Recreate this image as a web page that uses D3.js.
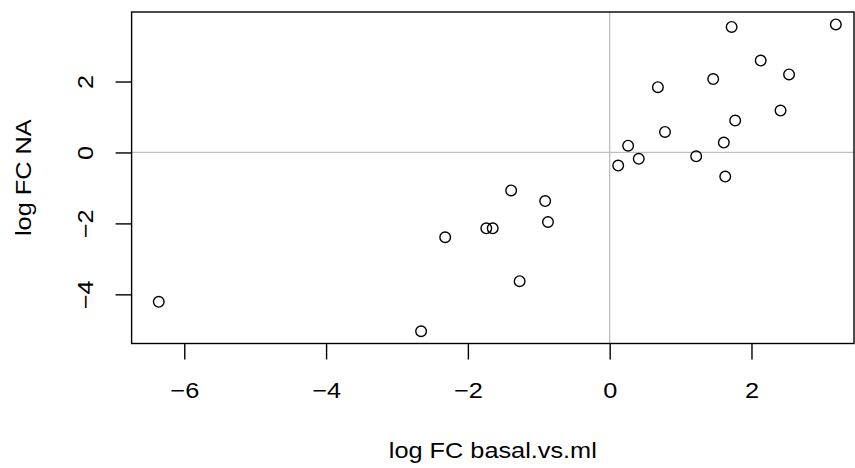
<!DOCTYPE html>
<html>
<head>
<meta charset="utf-8">
<script src="https://cdn.jsdelivr.net/npm/d3@7"></script>
<style>
  body { margin: 0; background: #fff; }
  text { font-family: "Liberation Sans", Arial, sans-serif; fill: #000; }
</style>
</head>
<body>
<div id="chart"></div>
<script>
// log fold changes, one entry per gene
const logFCx = [-6.36, -2.66, -2.32, -1.74, -1.65, -1.39, -1.27, -0.91, -0.87,
                0.12, 0.26, 0.41, 0.68, 0.78, 1.22, 1.46, 1.61, 1.63, 1.72,
                1.77, 2.13, 2.41, 2.53, 3.19];
const logFCy = [-4.21, -5.04, -2.39, -2.14, -2.14, -1.07, -3.63, -1.37, -1.96,
                -0.37, 0.19, -0.18, 1.84, 0.58, -0.11, 2.07, 0.28, -0.68, 3.54,
                0.90, 2.59, 1.18, 2.20, 3.61];
const xTicks = [-6, -4, -2, 0, 2];
const yTicks = [-4, -2, 0, 2];
const xTitle = "log FC basal.vs.ml";
const yTitle = "log FC NA";

function drawChart(container) {
    const width = 855;
    const height = 468;
    const left = 131.6, right = 854, top = 12, bottom = 343.5;
    const stretch = "scale(1.15,1)"; // R's font runs a bit wider than Liberation

    const x = d3.scaleLinear().domain([-6.743, 3.446]).range([left, right]);
    const y = d3.scaleLinear().domain([-5.386, 3.96]).range([bottom, top]);

    const svg = d3.select(container).append("svg")
        .attr("width", width)
        .attr("height", height);

    // reference lines at zero
    svg.append("line")
        .attr("x1", x(0)).attr("x2", x(0))
        .attr("y1", top).attr("y2", bottom)
        .attr("stroke", "#bebebe").attr("stroke-width", 1.3);
    svg.append("line")
        .attr("x1", left).attr("x2", right)
        .attr("y1", y(0)).attr("y2", y(0))
        .attr("stroke", "#bebebe").attr("stroke-width", 1.3);

    svg.append("g")
        .attr("fill", "none")
        .attr("stroke", "#000")
        .attr("stroke-width", 1.4)
        .selectAll("circle")
        .data(logFCx.map((d, i) => [d, logFCy[i]]))
        .join("circle")
        .attr("cx", d => x(d[0]))
        .attr("cy", d => y(d[1]))
        .attr("r", 5.3);

    const xAxis = svg.append("g")
        .attr("transform", `translate(0,${bottom})`)
        .call(d3.axisBottom(x).tickValues(xTicks).tickSize(16).tickPadding(23).tickSizeOuter(0));
    xAxis.select(".domain").remove();
    xAxis.selectAll("line").attr("stroke-width", 1.4);
    xAxis.selectAll("text")
        .style("font-size", "22px")
        .attr("fill", "#000")
        .attr("transform", stretch);

    const yAxis = svg.append("g")
        .attr("transform", `translate(${left},0)`)
        .call(d3.axisLeft(y).tickValues(yTicks).tickSize(16).tickSizeOuter(0));
    yAxis.select(".domain").remove();
    yAxis.selectAll("line").attr("stroke-width", 1.4);
    yAxis.selectAll("text")
        .style("font-size", "22px")
        .attr("fill", "#000")
        .attr("x", null).attr("dy", null)
        .attr("text-anchor", "middle")
        .attr("transform", "translate(-38.3,0) rotate(-90) " + stretch);

    // plot box
    svg.append("rect")
        .attr("x", left).attr("y", top)
        .attr("width", right - left).attr("height", bottom - top)
        .attr("fill", "none")
        .attr("stroke", "#000")
        .attr("stroke-width", 1.4);

    svg.append("text")
        .attr("transform", `translate(${(left + right) / 2},457.7) ${stretch}`)
        .attr("text-anchor", "middle")
        .style("font-size", "22px")
        .text(xTitle);

    svg.append("text")
        .attr("transform", `translate(30.5,${(top + bottom) / 2}) rotate(-90) ${stretch}`)
        .attr("text-anchor", "middle")
        .style("font-size", "22px")
        .text(yTitle);
}

drawChart("#chart");
</script>
</body>
</html>
